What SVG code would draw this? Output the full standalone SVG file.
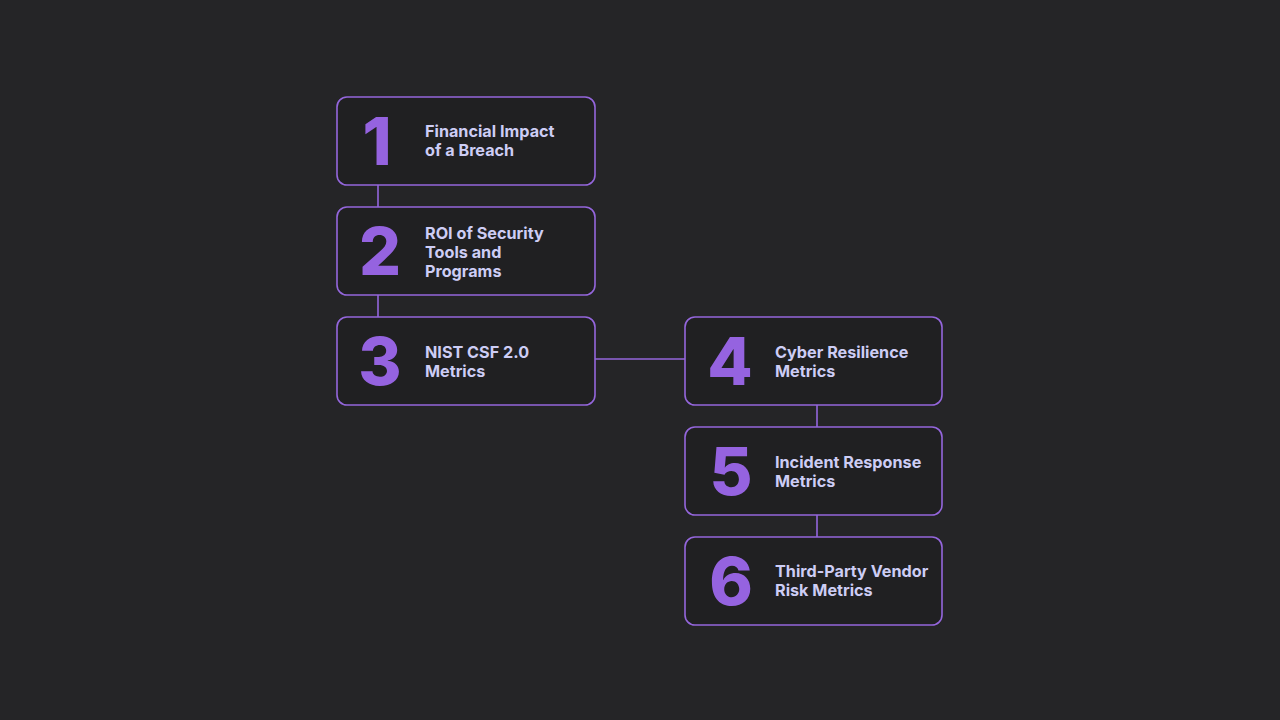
<svg xmlns="http://www.w3.org/2000/svg" width="1280" height="720" viewBox="0 0 1280 720">
<style>
.bg{fill:#252527}
.box{fill:#202022;stroke:#9466dc;stroke-width:1.6}
.num{font-family:Inter,"Liberation Sans",sans-serif;font-weight:800;font-size:66px;fill:#9563e0;text-anchor:middle}
.lbl{font-family:Inter,"Liberation Sans",sans-serif;font-weight:700;font-size:16.2px;fill:#cdcdf5}
.conn{stroke:#9466dc;stroke-width:1.6;fill:none}
</style>
<rect class="bg" width="1280" height="720"/>
<g id="connectors">
<line class="conn" x1="378" y1="185" x2="378" y2="207"/>
<line class="conn" x1="378" y1="295" x2="378" y2="317"/>
<line class="conn" x1="595" y1="359" x2="685" y2="359"/>
<line class="conn" x1="817" y1="405" x2="817" y2="427"/>
<line class="conn" x1="817" y1="515" x2="817" y2="537"/>
</g>
<g id="node1">
<rect class="box" x="337" y="97" width="258" height="88" rx="10"/>
<text class="num" x="377" y="165">1</text>
<text class="lbl" x="425" y="137">Financial Impact</text>
<text class="lbl" x="425" y="156">of a Breach</text>
</g>
<g id="node2">
<rect class="box" x="337" y="207" width="258" height="88" rx="10"/>
<text class="num" x="380" y="275">2</text>
<text class="lbl" x="425" y="239">ROI of Security</text>
<text class="lbl" x="425" y="258">Tools and</text>
<text class="lbl" x="425" y="277">Programs</text>
</g>
<g id="node3">
<rect class="box" x="337" y="317" width="258" height="88" rx="10"/>
<text class="num" x="380" y="385">3</text>
<text class="lbl" x="425" y="358">NIST CSF 2.0</text>
<text class="lbl" x="425" y="377">Metrics</text>
</g>
<g id="node4">
<rect class="box" x="685" y="317" width="257" height="88" rx="10"/>
<text class="num" x="730" y="385">4</text>
<text class="lbl" x="775" y="358">Cyber Resilience</text>
<text class="lbl" x="775" y="377">Metrics</text>
</g>
<g id="node5">
<rect class="box" x="685" y="427" width="257" height="88" rx="10"/>
<text class="num" x="731" y="495">5</text>
<text class="lbl" x="775" y="468">Incident Response</text>
<text class="lbl" x="775" y="487">Metrics</text>
</g>
<g id="node6">
<rect class="box" x="685" y="537" width="257" height="88" rx="10"/>
<text class="num" x="731" y="605">6</text>
<text class="lbl" x="775" y="577">Third-Party Vendor</text>
<text class="lbl" x="775" y="596">Risk Metrics</text>
</g>
</svg>
